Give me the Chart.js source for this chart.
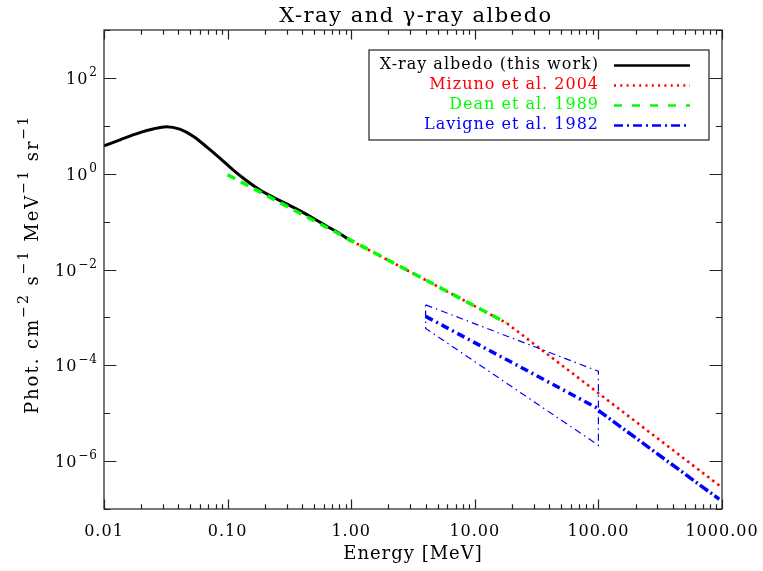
<!DOCTYPE html>
<html>
<head>
<meta charset="utf-8">
<script src="https://cdn.jsdelivr.net/npm/chart.js@4/dist/chart.umd.min.js"></script>
<style>
  html, body { margin: 0; padding: 0; background: #fff; }
  #wrap { width: 763px; height: 571px; }
</style>
</head>
<body>
<div id="wrap"><canvas id="c" width="763" height="571"></canvas></div>
<script>
// ---------------- data ----------------
const albedoEnergy = [0.01, 0.0135, 0.0195, 0.025, 0.032, 0.041, 0.053, 0.068, 0.087, 0.11, 0.14, 0.18, 0.23, 0.3, 0.39, 0.5, 0.63, 0.8, 1.0];
const albedoFlux   = [3.8, 5.1, 7.2, 8.6, 9.6, 8.5, 6.0, 3.6, 2.1, 1.22, 0.74, 0.47, 0.33, 0.235, 0.165, 0.115, 0.081, 0.057, 0.039];

const mizunoEnergy = [1, 18, 1000];
const mizunoFlux   = [0.040, 7.7e-4, 2.8e-7];

const deanEnergy = [0.1, 18];
const deanFlux   = [0.95, 7.7e-4];

const lavigneEnergy = [4, 100];
const lavigneFlux   = [1.05e-3, 1.24e-5];

const lavigneBandEnergy = [4, 100, 100, 4, 4];
const lavigneBandFlux   = [1.83e-3, 7.5e-5, 2.14e-6, 5.9e-4, 1.83e-3];

const lavigneHighEnergy = [100, 950];
const lavigneHighFlux   = [1.14e-5, 1.6e-7];

const seriesLabels = ['X-ray albedo (this work)', 'Mizuno et al. 2004', 'Dean et al. 1989', 'Lavigne et al. 1982'];

const chartTitle = 'X-ray and \u03B3-ray albedo';
const xTickValues = [0.01, 0.1, 1, 10, 100, 1000];
const xTickLabels = ['0.01', '0.10', '1.00', '10.00', '100.00', '1000.00'];
const yTickValues = [1e-6, 1e-4, 1e-2, 1, 1e2];
const yTickExponents = ['\u22126', '\u22124', '\u22122', '0', '2'];

// y axis title pieces: [text, isSuperscript]
const yTitleParts = [['Phot. cm', 0], ['\u22122', 1], [' s', 0], ['\u22121', 1], [' MeV', 0], ['\u22121', 1], [' sr', 0], ['\u22121', 1]];

// ---------------- helpers ----------------
const pts = (xs, ys) => xs.map((v, i) => ({ x: v, y: ys[i] }));
const FONT = 'DejaVu Serif';

const frameAndTicks = {
  id: 'frameAndTicks',
  beforeDraw(chart) {
    chart.ctx.letterSpacing = '1px';
  },
  afterDraw(chart) {
    const { ctx, chartArea: a, scales } = chart;
    const xs = scales.x, ys = scales.y;
    ctx.save();
    ctx.strokeStyle = '#222';
    ctx.lineWidth = 1.2;
    ctx.strokeRect(a.left, a.top, a.right - a.left, a.bottom - a.top);
    ctx.beginPath();
    for (let d = -2; d <= 3; d++) {
      for (let m = 1; m <= 9; m++) {
        const v = m * Math.pow(10, d);
        if (v > 1000 * 1.0001) break;
        const px = Math.round(xs.getPixelForValue(v)) + 0.5;
        const len = m === 1 ? 9.6 : 4.8;
        ctx.moveTo(px, a.bottom); ctx.lineTo(px, a.bottom - len);
        ctx.moveTo(px, a.top); ctx.lineTo(px, a.top + len);
      }
    }
    for (let d = -7; d <= 3; d++) {
      const py = Math.round(ys.getPixelForValue(Math.pow(10, d))) + 0.5;
      const len = (d % 2 === 0) ? 12.4 : 6.2;
      ctx.moveTo(a.left, py); ctx.lineTo(a.left + len, py);
      ctx.moveTo(a.right, py); ctx.lineTo(a.right - len, py);
    }
    ctx.stroke();

    // title
    ctx.fillStyle = '#000';
    ctx.font = '21px "' + FONT + '"';
    ctx.letterSpacing = '1.5px';
    ctx.textAlign = 'center';
    ctx.textBaseline = 'alphabetic';
    ctx.fillText(chartTitle, (a.left + a.right) / 2 + 3, 22);

    // y tick labels with superscript exponents
    ctx.letterSpacing = '1px';
    yTickValues.forEach((v, i) => {
      const py = ys.getPixelForValue(v);
      const right = a.left - 6;
      ctx.font = '12px "' + FONT + '"';
      ctx.textAlign = 'right';
      ctx.textBaseline = 'alphabetic';
      const ew = ctx.measureText(yTickExponents[i]).width;
      ctx.fillText(yTickExponents[i], right, py - 2);
      ctx.font = '16px "' + FONT + '"';
      ctx.fillText('10', right - ew - 1, py + 6);
    });

    // y axis title, rotated, with superscripts
    ctx.save();
    const mainFont = '18px "' + FONT + '"', supFont = '14px "' + FONT + '"';
    ctx.letterSpacing = '2px';
    let total = 0;
    const widths = yTitleParts.map(p => {
      ctx.font = p[1] ? supFont : mainFont;
      const w = ctx.measureText(p[0]).width;
      total += w;
      return w;
    });
    const cy = (a.top + a.bottom) / 2 - 5;
    ctx.translate(38, cy);
    ctx.rotate(-Math.PI / 2);
    ctx.textAlign = 'left';
    ctx.textBaseline = 'alphabetic';
    let cx = -total / 2;
    yTitleParts.forEach((p, i) => {
      ctx.font = p[1] ? supFont : mainFont;
      ctx.fillText(p[0], cx, p[1] ? -10 : 0);
      cx += widths[i];
    });
    ctx.restore();

    // legend box
    const bx = a.left + 265, by = a.top + 20, bw = 340, bh = 90;
    ctx.fillStyle = '#fff';
    ctx.fillRect(bx, by, bw, bh);
    ctx.lineWidth = 1.2;
    ctx.strokeStyle = '#222';
    ctx.strokeRect(bx, by, bw, bh);
    ctx.font = '16px "' + FONT + '"';
    ctx.letterSpacing = '1px';
    ctx.textAlign = 'right';
    ctx.textBaseline = 'middle';
    const legendSets = chart.data.datasets.filter(ds => ds.legendIndex !== undefined)
      .sort((p, q) => p.legendIndex - q.legendIndex);
    legendSets.forEach((ds, i) => {
      const yy = by + 15 + i * 20;
      ctx.fillStyle = ds.borderColor;
      ctx.fillText(ds.label, bx + 230, yy);
      ctx.beginPath();
      ctx.strokeStyle = ds.borderColor;
      ctx.lineWidth = 2.6;
      ctx.setLineDash(ds.legendDash || []);
      ctx.moveTo(bx + 245, yy + 0.5);
      ctx.lineTo(bx + 321, yy + 0.5);
      ctx.stroke();
      ctx.setLineDash([]);
    });
    ctx.restore();
  }
};

const commonLine = { showLine: true, pointRadius: 0, fill: false, borderCapStyle: 'butt' };

const chart = new Chart(document.getElementById('c'), {
  type: 'scatter',
  data: {
    datasets: [
      Object.assign({}, commonLine, {
        label: seriesLabels[3], legendIndex: 3, legendDash: [9, 4, 2, 4],
        data: pts(lavigneEnergy, lavigneFlux),
        borderColor: '#0000ff', borderWidth: 3.5, borderDash: [8, 4, 2, 4], order: 0
      }),
      Object.assign({}, commonLine, {
        label: 'Lavigne band',
        data: pts(lavigneBandEnergy, lavigneBandFlux),
        borderColor: '#0000ff', borderWidth: 1.2, borderDash: [7, 4, 1.5, 4], order: 1
      }),
      Object.assign({}, commonLine, {
        label: 'Lavigne high',
        data: pts(lavigneHighEnergy, lavigneHighFlux),
        borderColor: '#0000ff', borderWidth: 3.5, borderDash: [10, 3, 2, 3], order: 1
      }),
      Object.assign({}, commonLine, {
        label: seriesLabels[2], legendIndex: 2, legendDash: [8, 10],
        data: pts(deanEnergy, deanFlux),
        borderColor: '#00ff00', borderWidth: 3.5, borderDash: [8.5, 6.5], order: 2
      }),
      Object.assign({}, commonLine, {
        label: seriesLabels[1], legendIndex: 1, legendDash: [2, 4.3],
        data: pts(mizunoEnergy, mizunoFlux),
        borderColor: '#ff0000', borderWidth: 2.6, borderDash: [2.5, 3.8], order: 3
      }),
      Object.assign({}, commonLine, {
        label: seriesLabels[0], legendIndex: 0, legendDash: [],
        data: pts(albedoEnergy, albedoFlux),
        borderColor: '#000000', borderWidth: 3, cubicInterpolationMode: 'monotone', order: 4
      })
    ]
  },
  options: {
    responsive: false,
    animation: false,
    devicePixelRatio: 1,
    layout: { padding: { left: 0, right: 41, top: 30, bottom: 0 } },
    plugins: {
      legend: { display: false },
      tooltip: { enabled: false },
      title: { display: false }
    },
    scales: {
      x: {
        type: 'logarithmic', min: 0.01, max: 1000, position: 'bottom',
        grid: { display: false, drawTicks: false },
        border: { display: false },
        afterBuildTicks: s => { s.ticks = xTickValues.map(v => ({ value: v })); },
        afterFit: s => { s.height = 62; s.paddingLeft = 0; s.paddingRight = 0; },
        ticks: {
          color: '#000', maxRotation: 0, autoSkip: false, padding: 13,
          font: { family: FONT, size: 16 },
          callback: (v, i) => xTickLabels[i]
        },
        title: {
          display: true, text: 'Energy [MeV]', color: '#000',
          font: { family: FONT, size: 18 }, padding: { top: 0, bottom: 6 }
        }
      },
      y: {
        type: 'logarithmic', min: 1e-7, max: 1e3, position: 'left',
        grid: { display: false, drawTicks: false },
        border: { display: false },
        afterBuildTicks: s => { s.ticks = yTickValues.map(v => ({ value: v })); },
        afterFit: s => { s.width = 104; s.paddingTop = 0; s.paddingBottom = 0; },
        ticks: { display: false },
        title: { display: false }
      }
    }
  },
  plugins: [frameAndTicks]
});
</script>
</body>
</html>
